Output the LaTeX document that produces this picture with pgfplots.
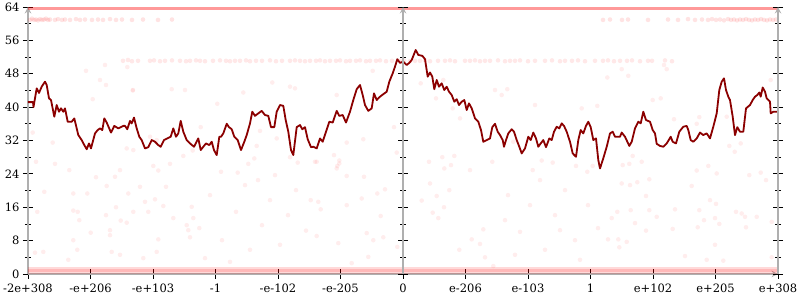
\documentclass[border=0pt]{standalone}
\usepackage{fontspec}
\setmainfont{DejaVu Serif}
\usepackage{pgfplots}
\pgfplotsset{compat=1.18}
\definecolor{lineRed}{RGB}{139,0,0}
\definecolor{axGray}{RGB}{175,175,175}
\pgfplotsset{
  common/.style={
    scale only axis, width=750pt, height=267pt,
    xmin=28, xmax=778, ymin=0, ymax=64,
    ytick={0,8,16,24,32,40,48,56,64},
    minor y tick num=1,
    tick align=center,
    major tick length=10pt, minor tick length=6pt,
    tick style={draw=black, line width=0.8pt},
    axis line style={-, draw=axGray, line width=1.8pt},
    /pgf/number format/assume math mode=true,
    ticklabel style={font=\fontsize{11.5}{13}\selectfont},
  },
}
\begin{document}
\begin{tikzpicture}
\begin{axis}[common,
  axis x line=bottom, axis y line=left,
  xtick={28,90.5,153,215.5,278,340.5,403,465.5,528,590.5,653,715.5,778},
  xticklabels={{-2e+308},{-e+206},{-e+103},{-1},{-e-102},{-e-205},{0},{e-206},{e-103},{1},{e+102},{e+205},{e+308}},
  xticklabel style={yshift=-1pt},
]
\coordinate (sw) at (rel axis cs:0,0);
\coordinate (ne) at (rel axis cs:1,1);
% dense bands
\addplot[draw=red, opacity=0.15, line width=7pt] coordinates {(28,0.9)(778,0.9)};
\addplot[draw=red, opacity=0.15, line width=2.5pt] coordinates {(28,0.8)(778,0.8)};
\addplot[draw=red, opacity=0.40, line width=3pt] coordinates {(28,63.6)(778,63.6)};
% band near 61
\addplot[only marks, mark=*, mark size=2.3pt, color=red, draw opacity=0, fill opacity=0.11] coordinates {
(30,60.9)(32,61.2)(34,60.9)(36,61.0)(38,60.8)(40,61.1)(42,60.9)(44,61.0)(46,61.2)(48,60.9)(50,61.0)(55,60.9)(58,61.1)(62,60.9)(65,61.0)(70,60.9)(76,61.1)(80,60.9)(85,61.0)(92,60.9)(98,61.0)(103,60.9)(110,61.1)(116,60.9)(122,61.0)(132,60.9)(143,61.0)(158,60.9)(172,61.0)
(603,60.9)(610,61.0)(622,60.9)(628,61.0)(648,60.9)(668,61.0)(678,60.9)(688,61.1)(695,60.9)(702,61.0)(708,60.9)(712,61.1)(716,60.9)(720,61.0)(724,60.8)(728,61.1)(731,60.9)(734,61.0)(737,60.8)(740,61.0)(743,60.9)(746,61.1)(749,60.9)(752,60.8)(755,61.0)(758,60.9)(761,61.1)(764,60.9)(767,60.8)(770,61.0)(773,60.9)(776,61.0)
};
% band near 51
\addplot[only marks, mark=*, mark size=2.3pt, color=red, draw opacity=0, fill opacity=0.09] coordinates {
(123,51.1)(128,51.3)(132,51.0)(138,51.1)(150,51.1)(154,51.2)(160,51.0)(165,51.1)(172,51.2)(180,51.1)(186,51.0)(190,51.1)(196,51.2)(200,51.1)(205,51.0)(213,51.1)(220,51.2)(226,51.1)(230,51.0)(235,51.1)(240,51.1)(246,51.2)(250,51.0)(256,51.1)(262,51.1)(270,51.2)(276,51.0)(282,51.1)(290,51.1)(295,51.2)(300,51.1)(305,51.0)(310,51.1)(316,51.1)(320,51.2)(325,51.0)(330,51.1)(336,51.1)(340,51.2)(346,51.0)(350,51.1)(356,51.1)(360,51.2)(366,51.0)(370,51.1)(376,51.1)(380,51.2)(386,51.0)(392,51.1)(400,51.1)(404,51.2)(410,51.0)(415,51.1)(420,51.1)(425,51.2)(430,51.0)(438,51.1)(445,51.1)(450,51.2)(455,51.0)(465,51.1)(470,51.1)(475,51.2)(480,51.0)(485,51.1)(490,51.1)(498,51.2)(505,51.0)(510,51.1)(515,51.1)(520,51.2)(528,51.0)(535,51.1)(545,51.1)(552,51.2)(560,51.0)(565,51.1)(572,51.1)(578,51.2)(585,51.0)(595,51.1)(603,51.1)(608,51.2)(614,51.0)(620,51.1)(627,51.1)(632,51.2)(640,51.0)(648,51.1)(652,51.1)(665,51.2)(672,51.0)
};
% scattered points
\addplot[only marks, mark=*, mark size=2.3pt, color=red, draw opacity=0, fill opacity=0.07] coordinates {
(86,48.7)(100,46.5)(106,45.3)(92.7,41.9)(133,44.1)(171.7,44.3)(185,44.1)(32.7,33.9)(52.7,31.5)(150,32.9)(156.7,32.1)(105,50.1)(127.3,49.6)(132.7,44.0)(217.3,40.8)(126.7,30.1)(133.3,29.7)(200.7,35.2)(183.3,28.3)(170,26.4)(153.3,25.9)(192.7,29.6)(272.3,45.9)(290,44.9)(295,44.5)(243.3,43.5)(260,34.3)(276.7,32.5)(256.7,30.7)(248.3,26.4)(254.3,27.7)(221,24.5)(237.7,24.3)(297.7,26.7)(290,28.0)(336.7,42.9)(372.7,48.7)(346.7,31.5)(363.3,32.3)(394,35.2)(420.7,45.7)(443.3,46.5)(436,42.1)(452.7,39.7)(460,37.3)(495,44.1)(316.7,26.9)(334,28.5)(339.3,27.2)(337.3,25.9)(429,26.9)(442.3,28.0)(454.3,28.3)(451,26.1)(444.3,25.3)(470,24.9)(492.3,26.9)(501.7,42.9)(507.3,44.3)(535,40.5)(581.7,39.7)(597.3,40.3)(513.3,31.7)(541.7,27.2)(532.7,24.9)(552.7,26.7)(576,25.9)(587.3,24.5)(592.7,25.9)(621.7,49.1)(628.3,47.5)(607.3,47.1)(664,50.1)(666.7,49.1)(652.7,41.7)(660.7,42.1)(674,37.1)(699.3,37.6)(696.7,36.0)(726.7,37.7)(770.7,46.5)(729.3,30.7)(740.7,31.3)
(36,26.9)(55,26.4)(69.3,24.9)(44.3,19.7)(73.3,19.3)(87.3,19.3)(96,23.2)(106.7,21.1)(115,23.3)(120,24.9)(128.3,19.3)(140,20.9)(158.3,24.8)(166,20.9)(37.3,14.9)(73.3,15.2)(77.7,14.9)(79.3,12.9)(106,14.1)(116,16.0)(120.7,12.8)(110,10.5)(110,9.3)(90.7,9.9)(73.3,8.1)(77.3,5.8)(43.3,5.3)(35,5.1)(68.3,3.4)(111.7,5.3)(120,4.6)(143.3,3.8)(156.7,5.3)(158.3,8.3)(126.7,12.3)(145,17.3)(148.3,14.9)(155,17.9)(163.3,16.3)(173.3,13.4)(186.7,11.7)(188.3,10.5)(190,8.8)(191.7,16.1)(193.3,13.4)(199.3,11.0)(133.3,14.9)
(315,26.9)(339.3,26.5)(336.7,25.3)(346.7,23.5)(364,23.3)(310.7,17.7)(318.3,17.3)(320.7,15.5)(346.7,16.5)(361.7,18.1)(377.3,19.3)(385,20.3)(380.7,13.9)(306,10.4)(316.7,9.1)(338.3,7.4)(366.7,9.8)(383.3,8.8)(373.3,8.1)(397.3,6.5)(368.3,4.1)(351.7,2.6)(396.7,29.1)(430,21.7)(449.3,20.1)(436.7,18.7)(421.7,17.6)(444,16.0)(432.7,14.7)(438.3,13.4)(483.3,10.7)(471.7,8.3)(480,7.2)(459.3,5.8)(485,4.0)(493.3,1.9)
(632.7,28.3)(622.7,26.1)(629.3,26.4)(641.7,26.9)(621.7,21.7)(630,21.3)(637.3,22.0)(649.3,22.7)(646,18.7)(649.3,15.3)(630.7,15.3)(617.3,14.9)(611.7,13.4)(635,12.2)(656.7,13.7)(646,10.4)(672.7,10.8)(675,15.5)(608,8.3)(618.3,8.3)(626.7,7.7)(619.3,6.4)(696.7,24.8)(708.3,25.9)(716.7,24.1)(691.7,21.1)(710,17.7)(716,16.8)(699.3,15.3)(704,12.9)(715,13.4)(719.3,12.0)(697.7,11.2)(734.7,29.3)(749.3,23.7)(760.7,24.3)(766,22.5)(736,14.9)(741.7,14.5)(745,13.7)(746,11.2)(756.7,13.7)(771.7,12.5)(715,7.0)(685,4.3)(706.7,3.4)(723.3,3.2)(771.7,4.0)
(210,18.9)(222,8.1)(236,14.9)(245,21.3)(250,5.8)(262,11.7)(270,17.7)(280,7.0)(288,14.1)(296,20.1)(205,3.8)(230,2.9)(258,22.5)(275,23.7)
(508,18.9)(520,10.1)(530,16.5)(545,5.8)(555,14.1)(565,20.1)(575,8.1)(588,16.5)(598,11.0)(540,22.5)(515,4.6)(580,3.4)(560,10.5)(505,12.9)
};
% main line
\addplot[draw=lineRed, line width=1.8pt, line join=round] coordinates {
(28,41.2)(33,41.2)(33.5,40.0)(36.7,44.5)(39,43.4)(41.7,44.9)(45,46.1)(46.7,45.3)(49,42.1)(51,41.7)(54.3,37.7)(56.7,40.5)(59,38.9)(61,39.7)(63.3,38.9)(65,39.7)(67.7,36.5)(71.7,36.5)(74.3,37.3)(78.3,33.3)(81.7,32.1)(84.3,30.9)(86.7,29.9)(89,31.3)(91,30.1)(95,33.7)(97.7,34.5)(100,34.9)(102.3,34.5)(104.3,37.3)(106.7,36.3)(111,33.9)(114.3,35.5)(118.3,34.9)(123.3,35.5)(125,35.5)(127.3,34.7)(130,36.7)(131.7,36.1)(134,37.5)(136.7,34.9)(139.3,32.9)(141.7,32.1)(145,30.1)(148.3,30.4)(151.7,32.1)(155,31.7)(158.3,30.9)(160.7,30.5)(164,32.1)(167.3,32.5)(170.7,32.9)(173.3,34.9)(176,32.9)(178.3,33.7)(180.7,36.7)(183.3,34.1)(186.7,32.1)(190,31.3)(194,30.5)(198.3,32.5)(200.7,29.7)(203.3,30.5)(206,31.3)(209.3,30.9)(211.7,31.7)(214,29.7)(216.7,28.5)(219.3,32.9)(221,32.9)(223.3,33.7)(226.7,36.0)(229,35.2)(231.7,34.7)(234.3,32.9)(237.7,32.1)(241,29.7)(244.3,31.7)(246.7,33.3)(250,36.1)(252.3,38.9)(255,37.9)(258.3,38.5)(261.7,39.1)(265,38.1)(268.3,37.9)(271,35.2)(274.3,35.2)(276.7,38.9)(280,40.5)(283.3,40.3)(285.7,36.9)(288.3,34.1)(291,29.7)(293.3,28.5)(296.7,35.2)(300,35.7)(302.3,34.7)(305,35.2)(307.7,32.3)(311,30.4)(313.3,30.5)(316.7,30.1)(320,32.5)(322.7,31.7)(326,34.1)(329.3,36.5)(332.7,36.3)(336.7,39.1)(339.3,37.9)(342.7,38.1)(346,36.3)(350,38.9)(353.3,41.7)(356.7,44.3)(360,45.3)(362.7,42.9)(365,40.5)(368.3,39.1)(371.7,39.7)(374,43.3)(376.7,41.7)(380,42.5)(383.3,43.1)(386.7,43.7)(389.3,46.1)(392.7,48.1)(395,49.7)(397.3,51.5)(400,50.6)(403.3,50.9)(406.7,50.1)(409.3,50.6)(411.7,51.3)(415.7,53.7)(418.3,52.5)(422.3,52.3)(425,51.5)(427.7,47.3)(430,48.3)(432.3,47.3)(434.3,44.3)(436.7,46.5)(439,44.9)(441.7,45.7)(444.3,44.1)(446.7,44.9)(449,43.7)(451.7,42.9)(454.3,41.3)(456.7,41.9)(459,40.5)(461.7,41.3)(464.3,41.7)(466.7,39.3)(469,40.9)(471.7,39.7)(475,37.3)(478.3,36.5)(481,34.5)(483.3,31.7)(486.7,32.1)(490,32.5)(492.3,35.2)(495,36.0)(497.7,34.1)(500,33.3)(502.7,32.1)(504,30.5)(506,32.1)(508.3,33.7)(511.7,34.7)(514,34.1)(516.7,32.1)(519.3,30.5)(521.7,28.9)(525,30.1)(528.3,32.9)(530.7,32.1)(533.3,33.9)(536,32.5)(538.3,30.5)(540.7,31.3)(543.3,32.1)(546,30.4)(549.3,32.5)(551.7,32.1)(554,34.1)(556.7,35.3)(559.3,34.9)(561.7,36.1)(564,35.5)(566.7,34.1)(570,31.7)(572.7,28.9)(576,28.1)(578.3,32.1)(580.7,34.5)(583.3,33.7)(586,35.5)(588.3,36.5)(590.7,35.2)(593.3,32.1)(596,32.5)(598.3,27.3)(600,25.3)(603,27.5)(606.7,30.5)(610,33.7)(612.7,34.1)(615,32.9)(620,32.9)(621.7,33.9)(625,32.9)(629.3,30.7)(631.7,31.7)(635,34.9)(638.3,36.5)(640.7,36.1)(643.3,38.9)(646,36.9)(650,36.5)(652.7,34.5)(655,33.7)(656.7,31.2)(660,30.7)(663.3,30.5)(666.7,31.3)(670.7,32.9)(672.7,31.7)(676,31.3)(679.3,34.1)(683.3,35.3)(686.7,35.5)(688.3,34.5)(690.7,32.1)(693.3,31.7)(696.7,32.5)(700,33.9)(703.3,33.3)(706.7,33.7)(710,32.5)(713.3,35.3)(716.7,38.5)(719.3,44.1)(721.7,46.1)(724,46.9)(726,44.1)(728.3,42.5)(730,41.7)(732.7,37.7)(735,33.3)(737.3,35.2)(740,34.1)(743.3,34.1)(746,39.7)(750,40.5)(752.7,41.7)(755,42.5)(757.3,42.9)(759.3,43.5)(760.7,42.5)(762.7,44.7)(765,43.7)(766.7,42.1)(770,41.3)(770.7,38.5)(773.3,38.9)(778,38.9)
};
\end{axis}
% centre axis
\begin{axis}[common, xmin=-375, xmax=375,
  axis x line=none, axis y line=center, yticklabels={}, xtick=\empty]
\end{axis}
% right axis
\begin{axis}[common,
  axis x line=none, axis y line=right, yticklabels={}, xtick=\empty]
\end{axis}
\pgfresetboundingbox
\path[use as bounding box] ([xshift=-28pt,yshift=-26pt]sw) rectangle ([xshift=22pt,yshift=7pt]ne);
\end{tikzpicture}
\end{document}
